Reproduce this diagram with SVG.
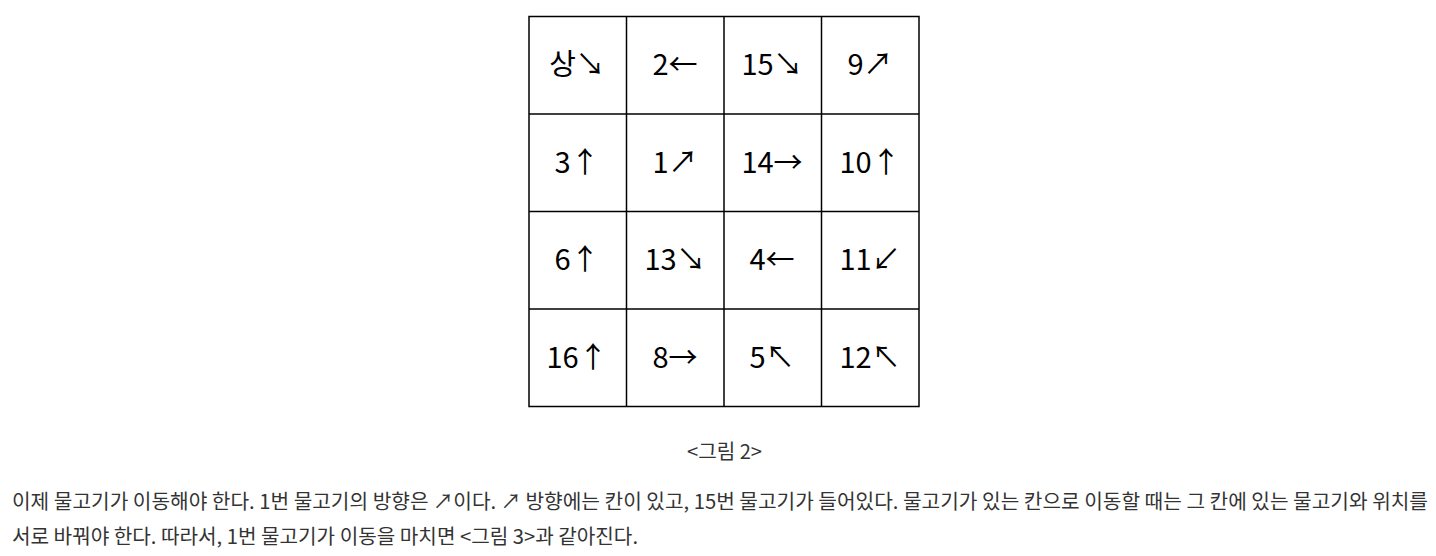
<svg xmlns="http://www.w3.org/2000/svg" width="1436" height="556" viewBox="0 0 1436 556">
<style>
.cell{font-family:"Noto Sans CJK KR","Noto Sans",sans-serif;font-size:29px;fill:#000;text-anchor:middle}
.body{font-family:"Noto Sans CJK KR","Noto Sans",sans-serif;font-size:20px;fill:#333}
.grid{fill:none;stroke:#000;stroke-width:1.5}
</style>
<rect width="1436" height="556" fill="#fff"/>
<g id="grid">
<rect class="grid" x="529" y="16.5" width="390" height="390"/>
<line class="grid" x1="626.5" y1="16.5" x2="626.5" y2="406.5"/>
<line class="grid" x1="724" y1="16.5" x2="724" y2="406.5"/>
<line class="grid" x1="821.5" y1="16.5" x2="821.5" y2="406.5"/>
<line class="grid" x1="529" y1="114" x2="919" y2="114"/>
<line class="grid" x1="529" y1="211.5" x2="919" y2="211.5"/>
<line class="grid" x1="529" y1="309" x2="919" y2="309"/>
</g>
<g id="cells">
<text class="cell" x="577" y="75">상↘</text>
<text class="cell" x="675" y="75">2←</text>
<text class="cell" x="772" y="75">15↘</text>
<text class="cell" x="870" y="75">9↗</text>
<text class="cell" x="577" y="173">3↑</text>
<text class="cell" x="675" y="173">1↗</text>
<text class="cell" x="772" y="173">14→</text>
<text class="cell" x="870" y="173">10↑</text>
<text class="cell" x="577" y="270">6↑</text>
<text class="cell" x="675" y="270">13↘</text>
<text class="cell" x="772" y="270">4←</text>
<text class="cell" x="870" y="270">11↙</text>
<text class="cell" x="577" y="368">16↑</text>
<text class="cell" x="675" y="368">8→</text>
<text class="cell" x="772" y="368">5↖</text>
<text class="cell" x="870" y="368">12↖</text>
</g>
<text class="body" x="687" y="459" font-size="17" textLength="75" lengthAdjust="spacingAndGlyphs">&lt;그림 2&gt;</text>
<text class="body" x="12" y="509" textLength="1416" lengthAdjust="spacingAndGlyphs">이제 물고기가 이동해야 한다. 1번 물고기의 방향은 ↗이다. ↗ 방향에는 칸이 있고, 15번 물고기가 들어있다. 물고기가 있는 칸으로 이동할 때는 그 칸에 있는 물고기와 위치를</text>
<text class="body" x="12" y="544" textLength="626" lengthAdjust="spacingAndGlyphs">서로 바꿔야 한다. 따라서, 1번 물고기가 이동을 마치면 &lt;그림 3&gt;과 같아진다.</text>
</svg>
